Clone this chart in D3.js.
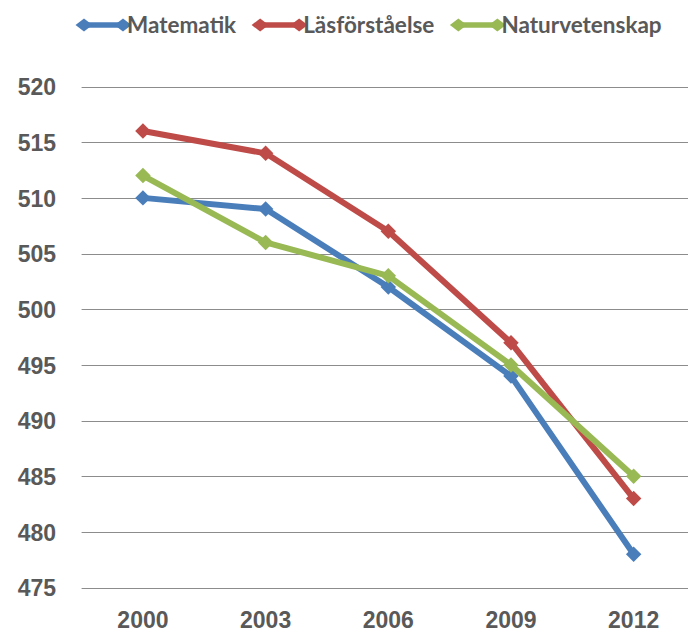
<!DOCTYPE html>
<html>
<head>
<meta charset="utf-8">
<script src="https://cdn.jsdelivr.net/npm/d3@7"></script>
<style>
  body { margin: 0; background: #fff; }
  svg { display: block; font-family: Lato, "Open Sans", sans-serif; }
  .tick text { fill: #595959; font-weight: 700; font-size: 23px; }
  .legend text { fill: #595959; font-weight: 700; font-size: 22.5px; }
</style>
</head>
<body>
<svg id="chart"></svg>
<script>
const years = ['2000', '2003', '2006', '2009', '2012'];
const yTicks = [475, 480, 485, 490, 495, 500, 505, 510, 515, 520];

const matematik = [510, 509, 502, 494, 478];
const lasforstaelse = [516, 514, 507, 497, 483];
const naturvetenskap = [512, 506, 503, 495, 485];

const series = [
  { name: 'Matematik', values: matematik, color: '#4a7ebb' },
  { name: 'Läsförståelse', values: lasforstaelse, color: '#be4b48' },
  { name: 'Naturvetenskap', values: naturvetenskap, color: '#98b954' },
];

const width = 688;
const height = 635;

const chart = d3.select('#chart')
  .attr('width', width)
  .attr('height', height);

const x = d3.scaleBand()
  .domain(years)
  .range([81.6, 695]);

const y = d3.scaleLinear()
  .domain([475, 520])
  .range([587.7, 86.5]);

// grid lines
chart.append('g')
  .selectAll('line')
  .data(yTicks)
  .enter().append('line')
    .attr('x1', 81.6)
    .attr('x2', width)
    .attr('y1', d => Math.round(y(d)) + 0.5)
    .attr('y2', d => Math.round(y(d)) + 0.5)
    .attr('stroke', '#8c8c8c')
    .attr('stroke-width', 1);

const yAxis = chart.append('g')
  .attr('transform', 'translate(56,0)')
  .call(d3.axisLeft(y).tickValues(yTicks).tickSize(0).tickPadding(0));
yAxis.select('.domain').remove();
yAxis.selectAll('text').attr('dy', '0.36em');

const xAxis = chart.append('g')
  .attr('transform', 'translate(0,607)')
  .call(d3.axisBottom(x).tickSize(0).tickPadding(0));
xAxis.select('.domain').remove();
xAxis.selectAll('text').attr('dy', '0.9em');

const line = d3.line()
  .x((d, i) => x(years[i]) + x.bandwidth() / 2)
  .y(d => y(d));

const diamond = d3.symbol().type(d3.symbolSquare).size(120);

series.forEach(s => {
  const g = chart.append('g');
  g.append('path')
    .datum(s.values)
    .attr('d', line)
    .attr('fill', 'none')
    .attr('stroke', s.color)
    .attr('stroke-width', 6)
    .attr('stroke-linejoin', 'round');
  g.selectAll('path.marker')
    .data(s.values)
    .enter().append('path')
      .attr('class', 'marker')
      .attr('d', diamond)
      .attr('fill', s.color)
      .attr('transform', (d, i) =>
        `translate(${x(years[i]) + x.bandwidth() / 2}, ${y(d)}) rotate(45)`);
});

// legend
const legend = chart.append('g').attr('class', 'legend');
let lx = 84;
const ly = 25;
series.forEach(s => {
  const item = legend.append('g');
  item.append('line')
    .attr('x1', lx).attr('x2', lx + 39)
    .attr('y1', ly).attr('y2', ly)
    .attr('stroke', s.color)
    .attr('stroke-width', 5.5);
  [lx, lx + 39].forEach(cx => {
    item.append('path')
      .attr('d', diamond)
      .attr('fill', s.color)
      .attr('transform', `translate(${cx}, ${ly}) scale(1.1, 0.85) rotate(45)`);
  });
  const t = item.append('text')
    .attr('x', lx + 43)
    .attr('y', ly)
    .attr('dy', '0.35em')
    .text(s.name);
  lx = lx + 43 + t.node().getComputedTextLength() + 24;
});
</script>
</body>
</html>
